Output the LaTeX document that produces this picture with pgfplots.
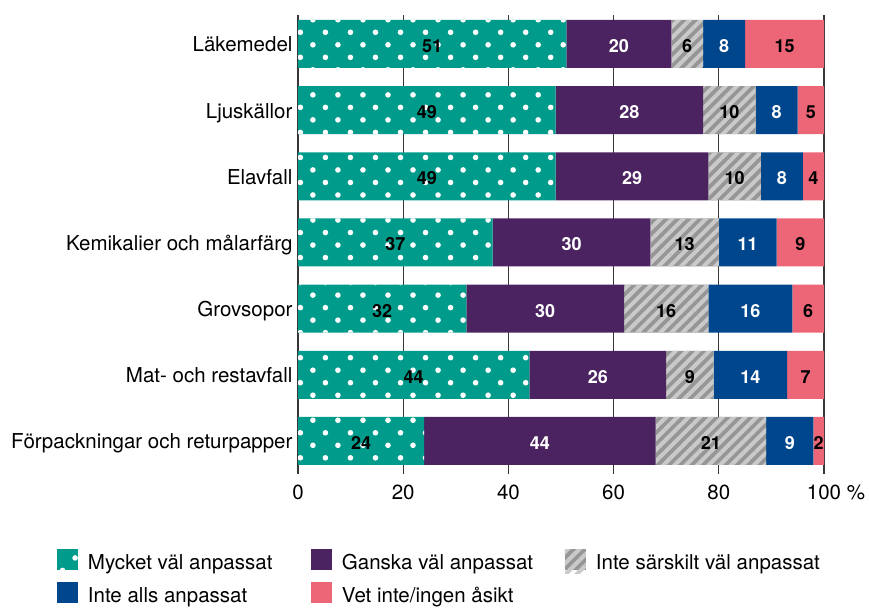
\documentclass[border=0pt]{standalone}
\usepackage{fontspec}
\setmainfont{TeX Gyre Heros}
\usepackage{pgfplots}
\pgfplotsset{compat=1.18}
\usetikzlibrary{patterns.meta}
\definecolor{cteal}{RGB}{0,155,138}
\definecolor{cpurple}{RGB}{75,35,96}
\definecolor{cgray}{RGB}{150,150,150}
\definecolor{clgray}{RGB}{202,202,202}
\definecolor{cblue}{RGB}{0,70,140}
\definecolor{cpink}{RGB}{237,102,119}
\definecolor{cgrid}{RGB}{55,55,55}
\newcommand{\bigfont}{\fontsize{20.5}{24}\selectfont}
\newcommand{\lblfont}{\bfseries\fontsize{18}{21}\selectfont}
\newcommand{\lent}[1]{\raisebox{7.5pt}[21pt][5pt]{\makebox[233pt][l]{\hspace{10pt}#1}}}
\pgfplotsset{
  common/.style={scale only axis, width=526pt, height=459pt,
    at={(298pt,-474pt)}, anchor=south west,
    xmin=0, xmax=100, ymin=-0.438, ymax=6.5, y dir=reverse},
  sw/.style={legend image code/.code={
      \path[draw=none, fill=none] (0pt,-4pt) rectangle (21pt,20pt);
      \fill[##1, draw=none] (0pt,-1pt) rectangle (21pt,20pt);}},
  lbl/.style={draw=none, mark=none, nodes near coords, point meta=explicit symbolic,
    nodes near coords align=center,
    every node near coord/.append style={anchor=center, font=\lblfont, text=#1, yshift=-2pt}},
}
\begin{document}
\begin{tikzpicture}
\begin{axis}[common,
  xbar stacked, bar width=48pt,
  axis line style={draw=none},
  xtick={0,20,40,60,80,100},
  xticklabels={0,20,40,60,80,{100\rlap{ \%}}},
  major tick length=0pt,
  xmajorgrids, grid style={cgrid, line width=1.3pt},
  ytick={0,1,2,3,4,5,6},
  yticklabels={Läkemedel,Ljuskällor,Elavfall,Kemikalier och målarfärg,Grovsopor,Mat- och restavfall,Förpackningar och returpapper},
  yticklabel style={anchor=base east, yshift=-8pt, xshift=-2pt, font=\bigfont},
  xticklabel style={yshift=-7pt, font=\bigfont},
  legend columns=3,
  legend cell align=left,
  legend style={at={(-0.4582,-0.1634)}, anchor=north west, draw=none, fill=none,
    inner sep=0pt, outer sep=0pt, row sep=0pt, column sep=0pt,
    nodes={inner sep=0pt, text depth=, text height=, font=\bigfont}},
]
\addplot[fill=cteal, draw=none, postaction={pattern={Dots[angle=45,distance=17.7pt,radius=2.8pt]}, pattern color=white}, sw]
  coordinates {(51,0) (49,1) (49,2) (37,3) (32,4) (44,5) (24,6)};
\addlegendentry{\lent{Mycket väl anpassat}}
\addplot[fill=cpurple, draw=none, sw]
  coordinates {(20,0) (28,1) (29,2) (30,3) (30,4) (26,5) (44,6)};
\addlegendentry{\lent{Ganska väl anpassat}}
\addplot[fill=cgray, draw=none, postaction={pattern={Lines[angle=45,distance=8pt,line width=4pt]}, pattern color=clgray}, sw]
  coordinates {(6,0) (10,1) (10,2) (13,3) (16,4) (9,5) (21,6)};
\addlegendentry{\lent{Inte särskilt väl anpassat}}
\addplot[fill=cblue, draw=none, sw]
  coordinates {(8,0) (8,1) (8,2) (11,3) (16,4) (14,5) (9,6)};
\addlegendentry{\lent{Inte alls anpassat}}
\addplot[fill=cpink, draw=none, sw]
  coordinates {(15,0) (5,1) (4,2) (9,3) (6,4) (7,5) (2,6)};
\addlegendentry{\lent{Vet inte/ingen åsikt}}
\end{axis}
\begin{axis}[common, hide axis, clip=false]
\addplot[lbl=black] table[meta=l]{
x y l
25.5 0 51
24.5 1 49
24.5 2 49
18.5 3 37
16 4 32
22 5 44
12 6 24
};
\addplot[lbl=white] table[meta=l]{
x y l
61 0 20
63 1 28
63.5 2 29
52 3 30
47 4 30
57 5 26
46 6 44
};
\addplot[lbl=black] table[meta=l]{
x y l
74 0 6
82 1 10
83 2 10
73.5 3 13
70 4 16
74.5 5 9
78.5 6 21
};
\addplot[lbl=white] table[meta=l]{
x y l
81 0 8
91 1 8
92 2 8
85.5 3 11
86 4 16
86 5 14
93.5 6 9
};
\addplot[lbl=black] table[meta=l]{
x y l
92.5 0 15
97.5 1 5
98 2 4
95.5 3 9
97 4 6
96.5 5 7
99 6 2
};
\end{axis}
\pgfresetboundingbox
\path[use as bounding box] (0pt,0pt) rectangle (869pt,-608pt);
\end{tikzpicture}
\end{document}
